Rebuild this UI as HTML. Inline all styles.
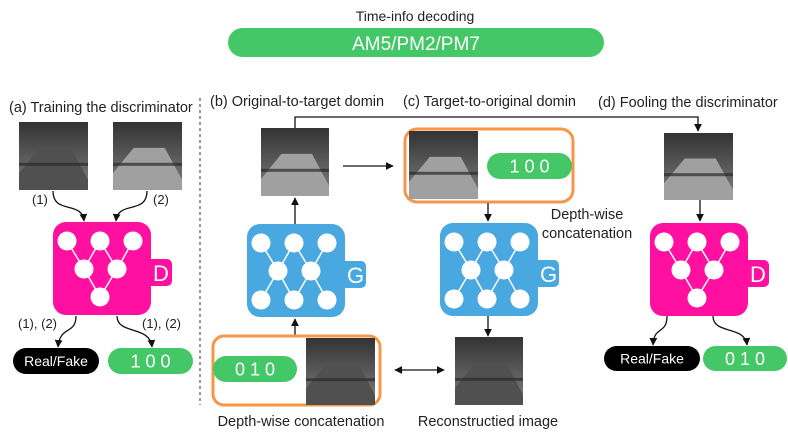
<!DOCTYPE html>
<html><head><meta charset="utf-8">
<style>
html,body{margin:0;padding:0;background:#fff;}
svg{display:block;font-family:"Liberation Sans","DejaVu Sans",sans-serif;}
text{fill:#222;}
</style></head>
<body>
<svg id="s" width="788" height="439" viewBox="0 0 788 439" xmlns="http://www.w3.org/2000/svg">
<defs>
<linearGradient id="sky" x1="0" y1="0" x2="0" y2="1">
<stop offset="0" stop-color="#333"/><stop offset="0.45" stop-color="#555"/><stop offset="1" stop-color="#808080"/>
</linearGradient>
<marker id="ah" viewBox="0 0 10 10" refX="9" refY="5" markerWidth="6" markerHeight="6" orient="auto-start-reverse"><path d="M0,0L10,5L0,10z" fill="#111"/></marker>
</defs>
<text x="415" y="21" text-anchor="middle" font-size="14">Time-info decoding</text>
<rect x="228" y="28" width="376" height="29" rx="14.5" fill="#44c767"/>
<text x="416" y="50" text-anchor="middle" font-size="19" style="fill:#fff">AM5/PM2/PM7</text>
<line x1="200" y1="98" x2="200" y2="405" stroke="#555" stroke-width="1.2" stroke-dasharray="3,3"/>
<text x="9" y="112" font-size="14.5">(a) Training the discriminator</text>
<text x="210" y="106" font-size="14.5">(b) Original-to-target domin</text>
<text x="403" y="106" font-size="14.5">(c) Target-to-original domin</text>
<text x="598" y="107" font-size="14.5">(d) Fooling the discriminator</text>
<g id="g"></g>
</svg>
<script>
const NS="http://www.w3.org/2000/svg";
const G=document.getElementById('g');
function mk(tag,attrs,name,parent){const e=document.createElementNS(NS,tag);for(const k in attrs)e.setAttribute(k,attrs[k]);


(parent||G).appendChild(e);return e;}
function txt(x,y,s,size,name,opts){const t=mk('text',Object.assign({x:x,y:y,'font-size':size},opts||{}),name);t.textContent=s;return t;}
function photo(x,y,w,h,name,dark){
  const g=mk('g',{},name);
  mk('rect',{x:x,y:y,width:w,height:h,fill:'url(#sky)'},'photo-bg',g);
  mk('polygon',{points:`${x+w*0.3},${y+h*0.38} ${x+w*0.75},${y+h*0.38} ${x+w},${y+h*0.85} ${x+w},${y+h} ${x},${y+h} ${x},${y+h*0.75}`,fill:dark?'#505050':'#a0a0a0'},'photo-road',g);
  mk('rect',{x:x,y:y+h*0.6,width:w,height:3,fill:'#2a2a2a',opacity:0.7},'photo-crack',g);
}
function pill(x,y,w,h,color,s,name,size,ls){
  mk('rect',{x:x,y:y,width:w,height:h,rx:h/2,fill:color},name+'-bg');
  txt(x+w/2,y+h/2+size*0.36,s,size,name+'-text',{'text-anchor':'middle',style:'fill:#fff','letter-spacing':ls||0});
}
function net(x,y,color,letter,name,gen){
  const W=98,H=93;
  mk('rect',{x:x+W-10,y:y+37,width:31,height:27,rx:5,fill:color},name+'-tab');
  mk('rect',{x:x,y:y,width:W,height:H,rx:13,fill:color},name+'-body');
  txt(x+W+2,y+59,letter,22,name+'-letter',{style:'fill:#fff'});
  const top=[[x+14,y+19],[x+47,y+19],[x+80,y+19]];
  const mid=[[x+31,y+47],[x+64,y+47]];
  const bot=gen?[[x+14,y+76],[x+47,y+76],[x+80,y+76]]:[[x+47,y+75]];
  const L=(a,b)=>mk('line',{x1:a[0],y1:a[1],x2:b[0],y2:b[1],stroke:'#fff','stroke-width':1.5},name+'-edge');
  L(top[0],mid[0]);L(top[1],mid[0]);L(top[1],mid[1]);L(top[2],mid[1]);
  if(gen){L(mid[0],bot[0]);L(mid[0],bot[1]);L(mid[1],bot[1]);L(mid[1],bot[2]);}
  else{L(mid[0],bot[0]);L(mid[1],bot[0]);}
  [...top,...mid,...bot].forEach(p=>mk('circle',{cx:p[0],cy:p[1],r:9.5,fill:'#fff'},name+'-node'));
}
function arrow(d,name,both){const a={d:d,fill:'none',stroke:'#111','stroke-width':1.3,'marker-end':'url(#ah)'};if(both)a['marker-start']='url(#ah)';mk('path',a,name);}
const PINK='#ff10a0',BLUE='#4aa8e0',GREEN='#44c767',ORANGE='#f79646';
// (a)
photo(19,122,69,68,'photo-a1',true);
photo(113,122,69,68,'photo-a2',false);
txt(32,204,'(1)',13,'label-a-1');txt(153,204,'(2)',13,'label-a-2');
arrow('M53,191 C53,215 82,200 84,221','arrow-a1');
arrow('M147,191 C147,215 118,200 116,221','arrow-a2');
net(53,222,PINK,'D','disc-a',false);
arrow('M76,316 C76,335 60,325 58,347','arrow-a-out1');
arrow('M117,316 C117,335 150,325 152,347','arrow-a-out2');
txt(18,328,'(1), (2)',13,'label-a-out1');txt(142,328,'(1), (2)',13,'label-a-out2');
pill(13,348,86,26,'#000','Real/Fake','realfake-a',14);
pill(108,348,85,26,GREEN,'1 0 0','code-a',18);
// (b)
mk('path',{d:'M295,128 V117 H698 V131',fill:'none',stroke:'#111','stroke-width':1.3,'marker-end':'url(#ah)'},'connector-top');
photo(261,128,68,68,'photo-b',false);
arrow('M343,166 H393','arrow-b-right');
net(247,224,BLUE,'G','gen-b',true);
arrow('M295,224 V198','arrow-b-up');
arrow('M295,335 V319','arrow-b-up2');
mk('rect',{x:213,y:336,width:167,height:69,rx:11,fill:'none',stroke:ORANGE,'stroke-width':3},'concat-box-b');
pill(213,356,84,26,GREEN,'0 1 0','code-b',18);
photo(306,338,69,67,'photo-b-input',true);
txt(301,426,'Depth-wise concatenation',14.5,'concat-label-b',{'text-anchor':'middle'});
arrow('M395,370 H444','arrow-compare',true);
// (c)
mk('rect',{x:405,y:129,width:168,height:73,rx:12,fill:'none',stroke:ORANGE,'stroke-width':3},'concat-box-c');
photo(409,131,69,68,'photo-c',false);
pill(487,153,85,26,GREEN,'1 0 0','code-c',18);
txt(587,219,'Depth-wise',14.5,'concat-label-c1',{'text-anchor':'middle'});
txt(587,238,'concatenation',14.5,'concat-label-c2',{'text-anchor':'middle'});
arrow('M488,203 V221','arrow-c-down');
net(440,223,BLUE,'G','gen-c',true);
arrow('M488,316 V336','arrow-c-down2');
photo(455,337,68,68,'photo-reconstructed',true);
txt(488,426,'Reconstructied image',14.5,'reconstructed-label',{'text-anchor':'middle'});
// (d)
photo(664,133,69,67,'photo-d',false);
arrow('M700,200 V221','arrow-d-down');
net(650,223,PINK,'D','disc-d',false);
arrow('M667,316 C667,335 654,325 653,345','arrow-d-out1');
arrow('M713,316 C713,335 745,325 747,345','arrow-d-out2');
pill(604,346,96,25,'#000','Real/Fake','realfake-d',14);
pill(703,346,84,25,GREEN,'0 1 0','code-d',18);
</script>
</body></html>
